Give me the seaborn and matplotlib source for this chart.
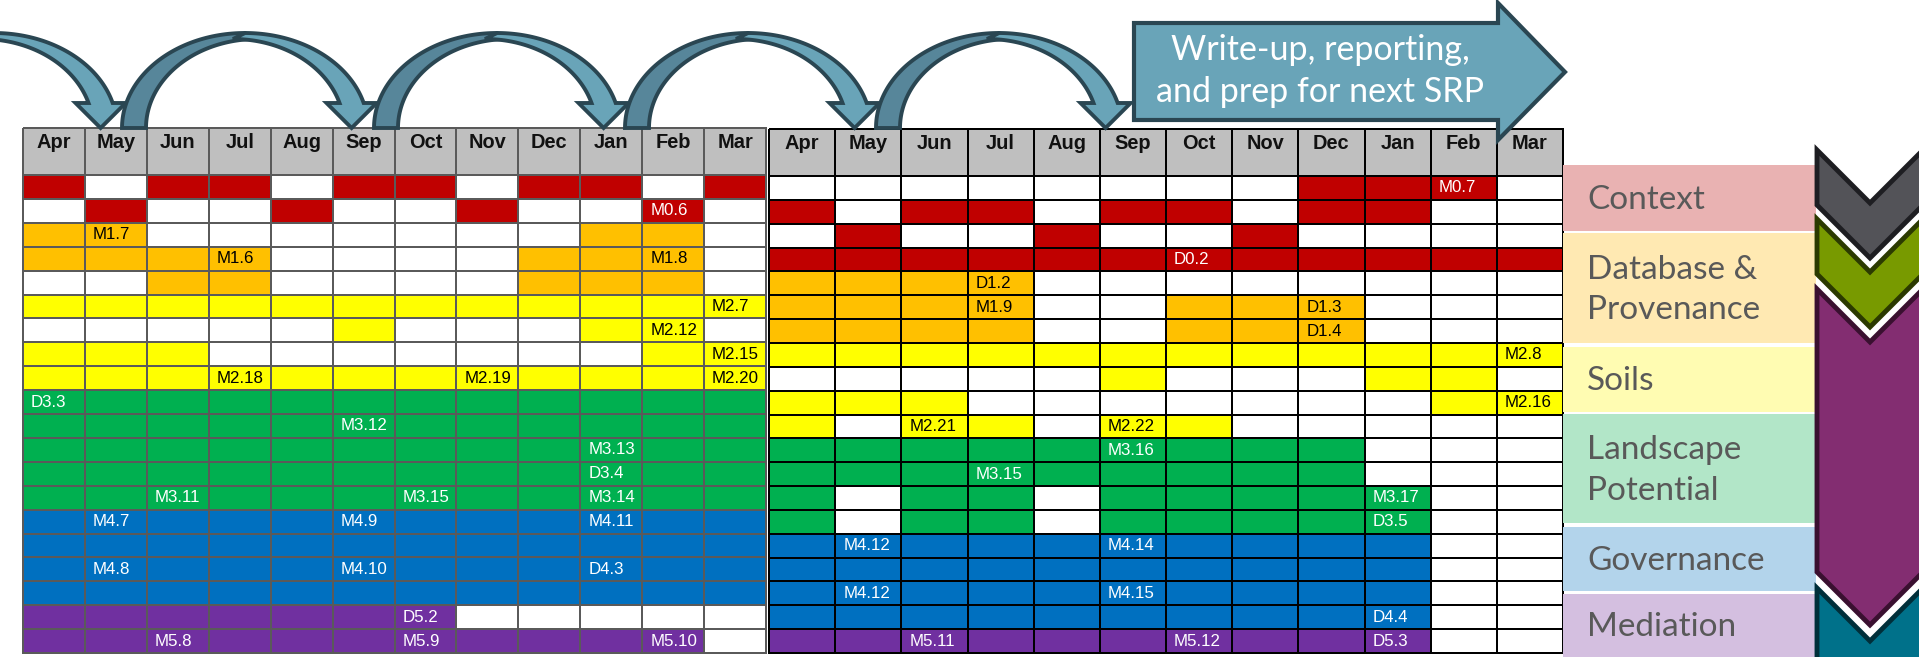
import numpy as np
import matplotlib
matplotlib.use("Agg")
import matplotlib.pyplot as plt
from matplotlib.colors import ListedColormap
from matplotlib.patches import Polygon, Rectangle
from matplotlib.transforms import offset_copy
import seaborn as sns

# ========== data ==========
months = ["Apr", "May", "Jun", "Jul", "Aug", "Sep", "Oct", "Nov", "Dec", "Jan", "Feb", "Mar"]

# W = empty, R = context, O = database, Y = soils, G = landscape, B = governance, P = mediation
year1_rows = [
    "RWRRWRRWRRWR",
    "WRWWRWWRWWRW",
    "OOWWWWWWWOOW",
    "OOOOWWWWOOOW",
    "WWOOWWWWOOOW",
    "YYYYYYYYYYYY",
    "WWWWWYWWWYYW",
    "YYYWWWWWWWYY",
    "YYYYYYYYYYYY",
    "GGGGGGGGGGGG",
    "GGGGGGGGGGGG",
    "GGGGGGGGGGGG",
    "GGGGGGGGGGGG",
    "GGGGGGGGGGGG",
    "BBBBBBBBBBBB",
    "BBBBBBBBBBBB",
    "BBBBBBBBBBBB",
    "BBBBBBBBBBBB",
    "PPPPPPPWWWWW",
    "PPPPPPPPPPPW",
]
year1_labels = [
    (1, "Feb", "M0.6"), (2, "May", "M1.7"), (3, "Jul", "M1.6"), (3, "Feb", "M1.8"),
    (5, "Mar", "M2.7"), (6, "Feb", "M2.12"), (7, "Mar", "M2.15"),
    (8, "Jul", "M2.18"), (8, "Nov", "M2.19"), (8, "Mar", "M2.20"),
    (9, "Apr", "D3.3"), (10, "Sep", "M3.12"), (11, "Jan", "M3.13"), (12, "Jan", "D3.4"),
    (13, "Jun", "M3.11"), (13, "Oct", "M3.15"), (13, "Jan", "M3.14"),
    (14, "May", "M4.7"), (14, "Sep", "M4.9"), (14, "Jan", "M4.11"),
    (16, "May", "M4.8"), (16, "Sep", "M4.10"), (16, "Jan", "D4.3"),
    (18, "Oct", "D5.2"), (19, "Jun", "M5.8"), (19, "Oct", "M5.9"), (19, "Feb", "M5.10"),
]

year2_rows = [
    "WWWWWWWWRRRW",
    "RWRRWRRWRRWW",
    "WRWWRWWRWWWW",
    "RRRRRRRRRRRR",
    "OOOOWWWWWWWW",
    "OOOOWWOOOWWW",
    "OOOOWWOOOWWW",
    "YYYYYYYYYYYY",
    "WWWWWYWWWYYW",
    "YYYWWWWWWWYY",
    "YWYYWYYWWWWW",
    "GGGGGGGGGWWW",
    "GGGGGGGGGWWW",
    "GWGGWGGGGGWW",
    "GWGGWGGGGGWW",
    "BBBBBBBBBBWW",
    "BBBBBBBBBBWW",
    "BBBBBBBBBBWW",
    "BBBBBBBBBBWW",
    "PPPPPPPPPPWW",
]
year2_labels = [
    (0, "Feb", "M0.7"), (3, "Oct", "D0.2"), (4, "Jul", "D1.2"), (5, "Jul", "M1.9"),
    (5, "Dec", "D1.3"), (6, "Dec", "D1.4"), (7, "Mar", "M2.8"), (9, "Mar", "M2.16"),
    (10, "Jun", "M2.21"), (10, "Sep", "M2.22"), (11, "Sep", "M3.16"), (12, "Jul", "M3.15"),
    (13, "Jan", "M3.17"), (14, "Jan", "D3.5"), (15, "May", "M4.12"), (15, "Sep", "M4.14"),
    (17, "May", "M4.12"), (17, "Sep", "M4.15"), (18, "Jan", "D4.4"),
    (19, "Jun", "M5.11"), (19, "Oct", "M5.12"), (19, "Jan", "D5.3"),
]

themes = ["Context", "Database &\nProvenance", "Soils", "Landscape\nPotential", "Governance", "Mediation"]
theme_colors = ["#E9B2B2", "#FFE9B2", "#FFFCB2", "#B2E6C8", "#B3D4EB", "#D4BFE0"]
banner_text = "Write-up, reporting,\nand prep for next SRP"

# ========== styling ==========
codes = "WROYGBP"
cell_colors = ["#FFFFFF", "#C00000", "#FFC000", "#FFFF00", "#00B050", "#0070C0", "#7030A0"]
dark_text = set("OY")
arial = ["Liberation Sans", "DejaVu Sans"]
soft = ["Lato", "DejaVu Sans"]

W, H = 1919, 657
fig = plt.figure(figsize=(W / 100, H / 100), dpi=100)


def px_rect(x0, y0, x1, y1):
    return [x0 / W, 1 - y1 / H, (x1 - x0) / W, (y1 - y0) / H]


def draw_year(x0, x1, y_head, y_top, y_bot, rows, labels, line_color):
    hax = fig.add_axes(px_rect(x0, y_head, x1, y_top))
    sns.heatmap(np.zeros((1, 12)), cmap=ListedColormap(["#BFBFBF"]), cbar=False,
                linewidths=1.1, linecolor=line_color, xticklabels=False, yticklabels=False, ax=hax)
    for i, m in enumerate(months):
        hax.text(i + 0.5, 0.3, m, ha="center", va="center", fontsize=14.4,
                 fontweight="bold", family=arial, color="#111111")

    bax = fig.add_axes(px_rect(x0, y_top, x1, y_bot))
    grid = np.array([[codes.index(c) for c in r] for r in rows])
    sns.heatmap(grid, cmap=ListedColormap(cell_colors), vmin=-0.5, vmax=len(codes) - 0.5,
                cbar=False, linewidths=1.1, linecolor=line_color,
                xticklabels=False, yticklabels=False, ax=bax)
    shifted = offset_copy(bax.transData, fig=fig, x=8, y=0, units="dots")
    for r, m, lab in labels:
        c = months.index(m)
        col = "black" if rows[r][c] in dark_text else "white"
        bax.text(c, r + 0.5, lab, transform=shifted, ha="left", va="center",
                 fontsize=12.2, color=col, family=arial)
    for a in (hax, bax):
        a.collections[0].set_clip_on(False)


draw_year(23, 766, 128, 175, 653, year1_rows, year1_labels, "#5A5A5A")
draw_year(769, 1563, 129, 176, 653, year2_rows, year2_labels, "#000000")

# ========== overlay: arrows, themes, chevrons ==========
ov = fig.add_axes([0, 0, 1, 1], zorder=5)
ov.set_xlim(0, W)
ov.set_ylim(H, 0)
ov.axis("off")
ov.patch.set_alpha(0)

edge = "#2A4652"


def curved_arrow(x_tail):
    a, b, yb, t = 123, 95, 128, 24
    cx = x_tail + a
    d = t / 2
    # rising (back) band
    th = np.linspace(np.pi, np.pi / 2, 60)
    outer = np.c_[cx + a * np.cos(th), yb - b * np.sin(th)]
    ai, bi = a - t + d, b - 6
    inner = np.c_[cx + d + ai * np.cos(th[::-1]), yb - bi * np.sin(th[::-1])]
    ov.add_patch(Polygon(np.vstack([outer, inner]), closed=True, fc="#57869A", ec=edge, lw=2.8))
    # descending (front) band with head
    yh = 103
    th_o = np.linspace(np.pi / 2, np.arcsin((yb - yh) / b), 60)
    outer = np.c_[cx + a * np.cos(th_o), yb - b * np.sin(th_o)]
    th_i = np.linspace(np.arcsin((yb - yh) / bi), np.pi / 2, 60)
    inner = np.c_[cx - d + ai * np.cos(th_i), yb - bi * np.sin(th_i)]
    xo, xi = outer[-1, 0], inner[0, 0]
    head = [(xo + 13, yh), ((xo + xi) / 2, yb), (xi - 13, yh)]
    ov.add_patch(Polygon(np.vstack([outer, head, inner]), closed=True, fc="#69A4B8", ec=edge, lw=2.8))


for xt in [-129, 122, 374, 625, 876]:
    curved_arrow(xt)

banner = [(1134, 23), (1498, 23), (1498, 3), (1565, 72), (1498, 140), (1498, 120), (1134, 120)]
ov.add_patch(Polygon(banner, closed=True, fc="#69A4B8", ec=edge, lw=3))
ov.text(1320, 71, banner_text, ha="center", va="center", color="white",
        fontsize=24.5, family=soft, linespacing=1.4)

theme_spans = [(165, 231), (233, 343), (347, 412), (414, 523), (527, 591), (594, 657)]
for name, colr, (y0, y1) in zip(themes, theme_colors, theme_spans):
    ov.add_patch(Rectangle((1563, y0), 253, y1 - y0, fc=colr, ec="none"))
    ov.text(1587, (y0 + y1) / 2 + 2, name, ha="left", va="center", color="#595959",
            fontsize=24, family=soft, linespacing=1.45)


def chevron(y_t, thick, fc, ec):
    L, C, R, h = 1817, 1870, 1923, 53
    pts = [(L, y_t), (C, y_t + h), (R, y_t), (R, y_t + thick), (C, y_t + thick + h), (L, y_t + thick)]
    ov.add_patch(Polygon(pts, closed=True, fc=fc, ec=ec, lw=3.5, joinstyle="miter"))


chevron(150, 55, "#535358", "#1E1E22")
chevron(219, 55, "#789A00", "#2B3A00")
chevron(289, 283, "#832D71", "#3A1030")
chevron(588, 120, "#00718A", "#002F3A")

fig.savefig("out.png", dpi=100)
